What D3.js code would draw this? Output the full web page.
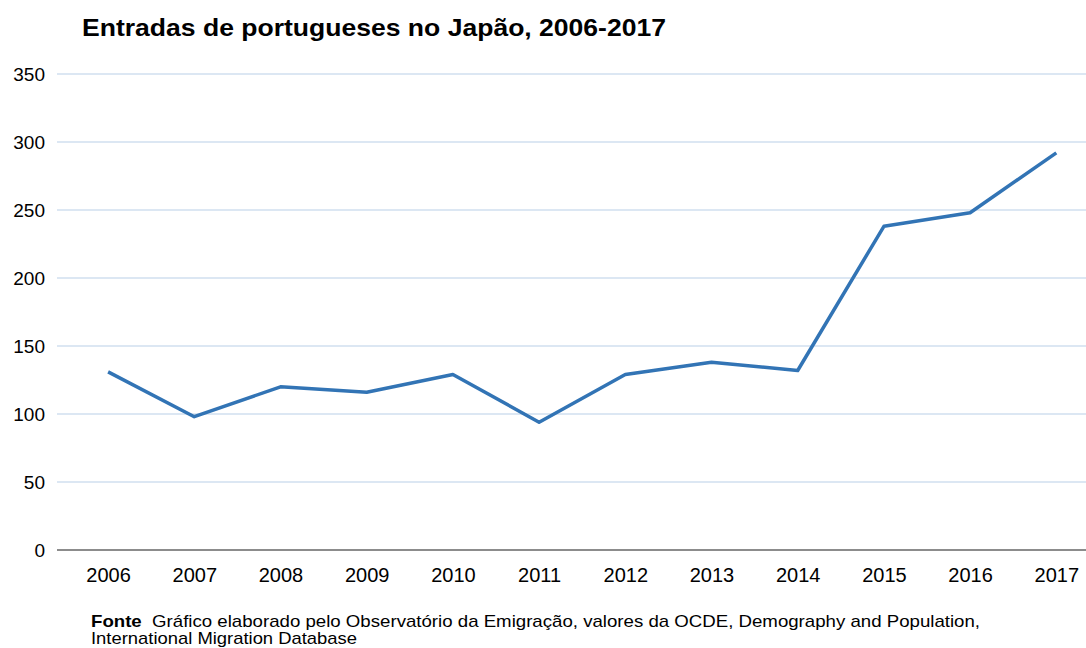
<!DOCTYPE html>
<html>
<head>
<meta charset="utf-8">
<script src="https://cdn.jsdelivr.net/npm/d3@7"></script>
<style>
  html, body { margin: 0; padding: 0; background: #fff; overflow: hidden; }
  svg { display: block; font-family: "Liberation Sans", Arial, sans-serif; }
</style>
</head>
<body>
<svg id="chart"></svg>
<script>
// Entradas de portugueses no Japão
const years = ['2006', '2007', '2008', '2009', '2010', '2011', '2012', '2013', '2014', '2015', '2016', '2017'];
const entries = [131, 98, 120, 116, 129, 94, 129, 138, 132, 238, 248, 292];
const yTicks = [0, 50, 100, 150, 200, 250, 300, 350];

const width = 1086;
const height = 648;
const margin = { top: 74, right: 0, bottom: 98, left: 65 };
const innerWidth = width - margin.left - margin.right;
const innerHeight = height - margin.top - margin.bottom;
const step = 86.2;

const svg = d3.select('#chart')
  .attr('width', width)
  .attr('height', height)
  .attr('viewBox', `0 0 ${width} ${height}`);

// categories sit in equal bands; the last band runs past the right edge
const xScale = d3.scalePoint()
  .domain(years)
  .range([step / 2, step / 2 + step * (years.length - 1)]);

const yScale = d3.scaleLinear()
  .domain([0, 350])
  .range([innerHeight, 0]);

const g = svg.append('g').attr('transform', `translate(${margin.left}, ${margin.top})`);

// Title
svg.append('text')
  .attr('x', 82)
  .attr('y', 36)
  .attr('font-size', '24.5px')
  .attr('font-weight', 'bold')
  .attr('fill', '#000')
  .attr('textLength', 584)
  .attr('lengthAdjust', 'spacingAndGlyphs')
  .text('Entradas de portugueses no Japão, 2006-2017');

// Grid lines
g.append('g')
  .selectAll('line')
  .data(yTicks.filter(d => d > 0))
  .join('line')
  .attr('x1', -8)
  .attr('x2', innerWidth)
  .attr('y1', d => yScale(d))
  .attr('y2', d => yScale(d))
  .attr('stroke', '#dce7f3')
  .attr('stroke-width', 2);

// Y axis labels
const yAxis = g.append('g')
  .call(d3.axisLeft(yScale).tickValues(yTicks).tickSize(0).tickPadding(20));
yAxis.select('.domain').remove();
yAxis.selectAll('text')
  .attr('font-size', '19px')
  .attr('font-family', '"Liberation Sans", Arial, sans-serif')
  .attr('fill', '#000');

// X axis
g.append('line')
  .attr('x1', -8)
  .attr('x2', innerWidth)
  .attr('y1', innerHeight)
  .attr('y2', innerHeight)
  .attr('stroke', '#8c8c8c')
  .attr('stroke-width', 2);

const xAxis = g.append('g')
  .attr('transform', `translate(0, ${innerHeight})`)
  .call(d3.axisBottom(xScale).tickSize(0).tickPadding(18));
xAxis.select('.domain').remove();
xAxis.selectAll('text')
  .attr('font-size', '20px')
  .attr('font-family', '"Liberation Sans", Arial, sans-serif')
  .attr('fill', '#000');

// Line
const line = d3.line()
  .x((d, i) => xScale(years[i]))
  .y(d => yScale(d));

g.append('path')
  .datum(entries)
  .attr('fill', 'none')
  .attr('stroke', '#3274b5')
  .attr('stroke-width', 3.5)
  .attr('stroke-linejoin', 'round')
  .attr('d', line);

// Source note
const note = svg.append('text')
  .attr('x', 91)
  .attr('y', 627)
  .attr('font-size', '17px')
  .attr('fill', '#000')
  .attr('textLength', 889)
  .attr('lengthAdjust', 'spacingAndGlyphs');
note.append('tspan').attr('font-weight', 'bold').text('Fonte');
note.append('tspan').text('\u00a0 Gráfico elaborado pelo Observatório da Emigração, valores da OCDE, Demography and Population,');
svg.append('text')
  .attr('x', 91)
  .attr('y', 644)
  .attr('font-size', '17px')
  .attr('fill', '#000')
  .attr('textLength', 266)
  .attr('lengthAdjust', 'spacingAndGlyphs')
  .text('International Migration Database');
</script>
</body>
</html>
